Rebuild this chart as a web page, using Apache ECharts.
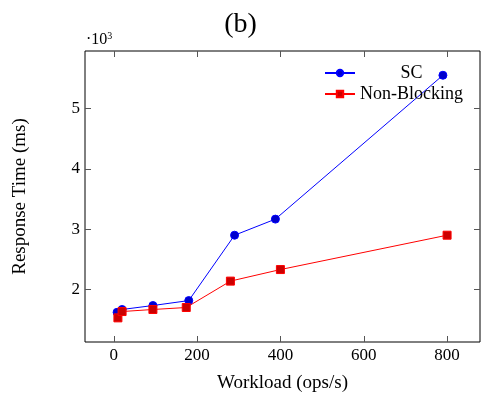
<!DOCTYPE html>
<html>
<head>
<meta charset="utf-8">
<script src="https://cdn.jsdelivr.net/npm/echarts@6/dist/echarts.min.js"></script>
<style>html,body{margin:0;padding:0;background:#fff;}#c{width:481px;height:395px;}</style>
</head>
<body>
<div id="c"></div>
<script>
var scX = [8, 20, 94, 180, 290, 388, 790];
var scY = [1620, 1667, 1733, 1815, 2900, 3167, 5555];
var nbX = [10, 20, 94, 174, 280, 400, 800];
var nbY = [1528, 1633, 1667, 1700, 2138, 2330, 2900];
var xTicks = [0, 200, 400, 600, 800];
var yTicks = [2000, 3000, 4000, 5000];
var seriesNames = ['SC', 'Non-Blocking'];

var font = 'Liberation Serif';
function pairs(xs, ys) { return xs.map(function (x, i) { return [x, ys[i]]; }); }
function ticks(vals) { return { show: true, inside: true, length: 6, customValues: vals, lineStyle: { color: '#555', width: 1 } }; }
var noLine = { show: false, onZero: false };

var chart = echarts.init(document.getElementById('c'));
chart.setOption({
  animation: false,
  title: { text: '(b)', left: 'center', top: 11, padding: 0, textStyle: { fontFamily: font, fontSize: 28, fontWeight: 'normal', color: '#000' } },
  grid: { left: 85, right: 1, top: 51, bottom: 53, outerBoundsMode: 'none', containLabel: false, show: true, borderColor: '#000', borderWidth: 1, backgroundColor: 'transparent' },
  legend: {
    orient: 'vertical', left: 324, top: 64, padding: 0, itemWidth: 30, itemHeight: 8, itemGap: 3,
    data: seriesNames,
    formatter: function (n) { return '{t|' + n + '}'; },
    textStyle: { fontFamily: font, fontSize: 18, color: '#000', rich: { t: { width: 103, align: 'center', fontFamily: font, fontSize: 18, color: '#000' } } }
  },
  graphic: [{
    type: 'text', left: 86, top: 31,
    style: { text: '{a|·10}{b|3}', rich: { a: { fontFamily: font, fontSize: 16, fill: '#000' }, b: { fontFamily: font, fontSize: 10, fill: '#000', verticalAlign: 'top', padding: [0, 0, 8, 0] } } }
  }],
  xAxis: [{
    type: 'value', min: -69, max: 879, position: 'bottom',
    name: 'Workload (ops/s)', nameLocation: 'middle', nameGap: 32,
    nameTextStyle: { fontFamily: font, fontSize: 19, color: '#000' },
    axisLine: noLine, splitLine: { show: false },
    axisTick: ticks(xTicks),
    axisLabel: { customValues: xTicks, margin: 5, fontFamily: font, fontSize: 17, color: '#000' }
  }, {
    type: 'value', min: -69, max: 879, position: 'top',
    axisLine: noLine, splitLine: { show: false },
    axisTick: ticks(xTicks),
    axisLabel: { show: false }
  }],
  yAxis: [{
    type: 'value', min: 1127.5, max: 5957.5, position: 'left',
    name: 'Response Time (ms)', nameLocation: 'middle', nameGap: 55,
    nameTextStyle: { fontFamily: font, fontSize: 19, color: '#000' },
    axisLine: noLine, splitLine: { show: false },
    axisTick: ticks(yTicks),
    axisLabel: { customValues: yTicks, margin: 5, fontFamily: font, fontSize: 17, color: '#000', formatter: function (v) { return String(v / 1000); } }
  }, {
    type: 'value', min: 1127.5, max: 5957.5, position: 'right',
    axisLine: noLine, splitLine: { show: false },
    axisTick: ticks(yTicks),
    axisLabel: { show: false }
  }],
  series: [{
    name: seriesNames[0], type: 'line', data: pairs(scX, scY),
    symbol: 'circle', symbolSize: 8,
    lineStyle: { color: '#0000ff', width: 1 },
    itemStyle: { color: '#0000cc', borderColor: '#0000ff', borderWidth: 1 }
  }, {
    name: seriesNames[1], type: 'line', data: pairs(nbX, nbY),
    symbol: 'rect', symbolSize: 8,
    lineStyle: { color: '#ff0000', width: 1 },
    itemStyle: { color: '#cc0000', borderColor: '#ff0000', borderWidth: 1 }
  }]
});
</script>
</body>
</html>
